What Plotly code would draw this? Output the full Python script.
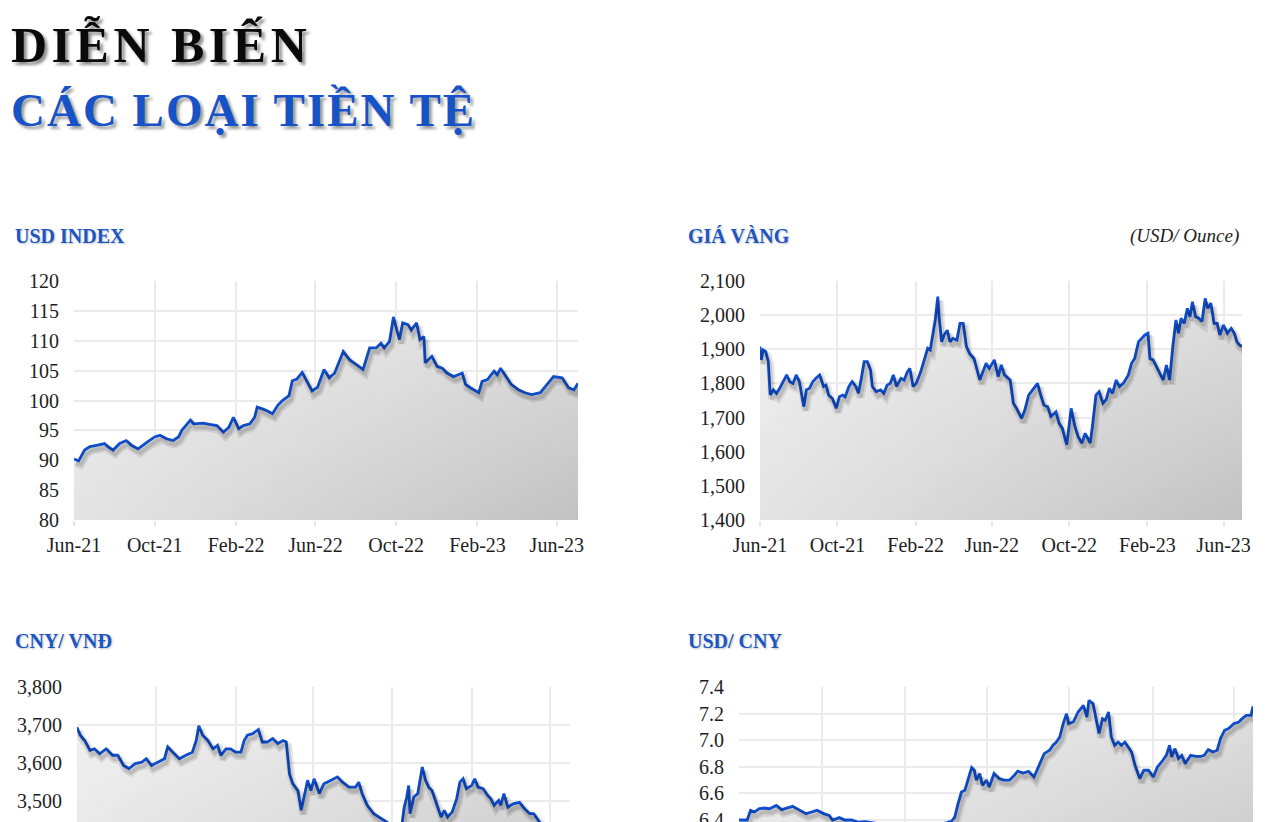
import plotly.graph_objects as go
import pandas as pd

W, H = 1280, 822

# ---------------- data ----------------
usd_index_dates = [
    "2021-06-01", "2021-06-08", "2021-06-17", "2021-06-25", "2021-07-05", "2021-07-17", "2021-07-22",
    "2021-07-30", "2021-08-09", "2021-08-19", "2021-08-27", "2021-09-06", "2021-09-19", "2021-10-01",
    "2021-10-09", "2021-10-19", "2021-10-29", "2021-11-06", "2021-11-11", "2021-11-24", "2021-11-29",
    "2021-12-13", "2021-12-23", "2022-01-03", "2022-01-13", "2022-01-21", "2022-01-28", "2022-02-05",
    "2022-02-12", "2022-02-22", "2022-03-01", "2022-03-05", "2022-03-13", "2022-03-20", "2022-03-28",
    "2022-04-05", "2022-04-12", "2022-04-22", "2022-04-27", "2022-05-04", "2022-05-12", "2022-05-19",
    "2022-05-27", "2022-06-04", "2022-06-14", "2022-06-22", "2022-06-30", "2022-07-13", "2022-07-23",
    "2022-08-02", "2022-08-12", "2022-08-22", "2022-09-01", "2022-09-08", "2022-09-13", "2022-09-21",
    "2022-09-27", "2022-10-02", "2022-10-06", "2022-10-11", "2022-10-19", "2022-10-24", "2022-11-01",
    "2022-11-06", "2022-11-12", "2022-11-14", "2022-11-24", "2022-12-02", "2022-12-10", "2022-12-17",
    "2022-12-27", "2023-01-09", "2023-01-14", "2023-01-22", "2023-02-03", "2023-02-08", "2023-02-16",
    "2023-02-26", "2023-03-03", "2023-03-08", "2023-03-16", "2023-03-24", "2023-04-04", "2023-04-14",
    "2023-04-24", "2023-05-07", "2023-05-15", "2023-05-27", "2023-06-09", "2023-06-19", "2023-06-27",
    "2023-07-03",
]
usd_index_values = [
    90.2, 89.9, 91.7, 92.3, 92.5, 92.8, 92.3,
    91.7, 92.8, 93.3, 92.5, 91.9, 93.0, 93.9,
    94.2, 93.6, 93.3, 93.9, 95.0, 96.7, 96.1,
    96.2, 96.0, 95.8, 94.7, 95.5, 97.2, 95.3,
    95.8, 96.1, 97.2, 98.9, 98.6, 98.3, 97.8,
    99.2, 100.0, 100.8, 103.3, 103.6, 104.7, 103.3,
    101.6, 102.2, 105.2, 103.8, 104.6, 108.2, 106.8,
    106.0, 105.2, 108.8, 108.8, 109.6, 108.8, 109.9,
    114.0, 111.8, 110.2, 113.0, 112.7, 111.8, 113.0,
    110.2, 110.7, 106.3, 107.4, 105.7, 105.4, 104.6,
    104.0, 104.6, 102.7, 102.1, 101.3, 103.2, 103.5,
    104.9, 104.3, 105.4, 104.0, 102.7, 101.8, 101.3,
    101.0, 101.3, 102.4, 104.0, 103.8, 102.1, 101.8,
    102.9,
]

gold_dates = [
    "2021-06-01", "2021-06-03", "2021-06-06", "2021-06-10", "2021-06-14", "2021-06-17", "2021-06-22",
    "2021-06-27", "2021-07-02", "2021-07-07", "2021-07-13", "2021-07-18", "2021-07-23", "2021-07-28",
    "2021-08-02", "2021-08-09", "2021-08-13", "2021-08-18", "2021-08-23", "2021-08-28", "2021-09-03",
    "2021-09-09", "2021-09-13", "2021-09-17", "2021-09-23", "2021-09-29", "2021-10-04", "2021-10-09",
    "2021-10-13", "2021-10-19", "2021-10-24", "2021-10-30", "2021-11-03", "2021-11-08", "2021-11-12",
    "2021-11-17", "2021-11-22", "2021-11-25", "2021-12-01", "2021-12-08", "2021-12-13", "2021-12-18",
    "2021-12-23", "2021-12-28", "2022-01-02", "2022-01-09", "2022-01-14", "2022-01-19", "2022-01-23",
    "2022-01-28", "2022-02-02", "2022-02-09", "2022-02-15", "2022-02-20", "2022-02-24", "2022-02-28",
    "2022-03-04", "2022-03-08", "2022-03-10", "2022-03-14", "2022-03-18", "2022-03-23", "2022-03-27",
    "2022-04-01", "2022-04-07", "2022-04-12", "2022-04-17", "2022-04-22", "2022-04-27", "2022-05-04",
    "2022-05-09", "2022-05-13", "2022-05-18", "2022-05-23", "2022-05-28", "2022-06-05", "2022-06-11",
    "2022-06-16", "2022-06-21", "2022-06-30", "2022-07-05", "2022-07-10", "2022-07-18", "2022-07-23",
    "2022-07-29", "2022-08-04", "2022-08-12", "2022-08-17", "2022-08-22", "2022-08-28", "2022-09-02",
    "2022-09-10", "2022-09-15", "2022-09-20", "2022-09-27", "2022-10-04", "2022-10-10", "2022-10-15",
    "2022-10-21", "2022-10-26", "2022-10-30", "2022-11-03", "2022-11-07", "2022-11-12", "2022-11-17",
    "2022-11-23", "2022-11-28", "2022-12-03", "2022-12-08", "2022-12-14", "2022-12-19", "2022-12-25",
    "2023-01-02", "2023-01-07", "2023-01-12", "2023-01-18", "2023-01-23", "2023-01-28", "2023-02-02",
    "2023-02-05", "2023-02-10", "2023-02-15", "2023-02-20", "2023-02-26", "2023-03-03", "2023-03-08",
    "2023-03-13", "2023-03-18", "2023-03-22", "2023-03-26", "2023-03-31", "2023-04-05", "2023-04-09",
    "2023-04-13", "2023-04-18", "2023-04-23", "2023-04-28", "2023-05-03", "2023-05-07", "2023-05-12",
    "2023-05-17", "2023-05-22", "2023-05-26", "2023-06-01", "2023-06-07", "2023-06-13", "2023-06-18",
    "2023-06-22", "2023-06-26", "2023-06-30",
]
gold_values = [
    1908, 1869, 1898, 1893, 1864, 1766, 1781,
    1771, 1786, 1805, 1825, 1805, 1800, 1825,
    1805, 1732, 1781, 1786, 1805, 1815, 1825,
    1791, 1795, 1766, 1756, 1727, 1761, 1766,
    1761, 1791, 1805, 1791, 1771, 1820, 1864,
    1864, 1839, 1791, 1776, 1781, 1771, 1795,
    1800, 1825, 1791, 1815, 1810, 1834, 1844,
    1791, 1800, 1834, 1873, 1903, 1898, 1947,
    1986, 2054, 1995, 1922, 1942, 1956, 1922,
    1932, 1927, 1976, 1976, 1908, 1888, 1873,
    1839, 1810, 1834, 1859, 1844, 1869, 1820,
    1854, 1825, 1810, 1742, 1727, 1698, 1722,
    1766, 1781, 1800, 1766, 1737, 1732, 1703,
    1717, 1683, 1669, 1620, 1727, 1673, 1644,
    1625, 1654, 1639, 1625, 1683, 1766, 1776,
    1742, 1752, 1786, 1771, 1810, 1791, 1800,
    1825, 1859, 1873, 1922, 1932, 1942, 1947,
    1873, 1869, 1849, 1834, 1810, 1854, 1810,
    1908, 1986, 1947, 1991, 1976, 2020, 1995,
    2039, 1995, 1991, 1981, 2049, 2020, 2035,
    1976, 1976, 1942, 1971, 1947, 1961, 1947,
    1922, 1913, 1908,
]

cny_vnd_dates = [
    "2021-06-01", "2021-06-06", "2021-06-13", "2021-06-21", "2021-06-28", "2021-07-06", "2021-07-16",
    "2021-07-26", "2021-08-03", "2021-08-12", "2021-08-20", "2021-08-30", "2021-09-09", "2021-09-16",
    "2021-09-24", "2021-10-04", "2021-10-14", "2021-10-19", "2021-10-27", "2021-11-06", "2021-11-16",
    "2021-11-26", "2021-12-02", "2021-12-06", "2021-12-12", "2021-12-20", "2021-12-28", "2022-01-04",
    "2022-01-09", "2022-01-17", "2022-01-24", "2022-02-01", "2022-02-09", "2022-02-14", "2022-02-19",
    "2022-02-27", "2022-03-08", "2022-03-14", "2022-03-22", "2022-03-30", "2022-04-07", "2022-04-15",
    "2022-04-20", "2022-04-25", "2022-04-30", "2022-05-08", "2022-05-13", "2022-05-18", "2022-05-23",
    "2022-05-28", "2022-06-02", "2022-06-10", "2022-06-17", "2022-06-28", "2022-07-08", "2022-07-16",
    "2022-07-26", "2022-08-05", "2022-08-10", "2022-08-15", "2022-08-23", "2022-09-02", "2022-09-13",
    "2022-09-23", "2022-10-03", "2022-10-10", "2022-10-15", "2022-10-19", "2022-10-23", "2022-10-26",
    "2022-10-28", "2022-11-03", "2022-11-09", "2022-11-16", "2022-11-21", "2022-11-26", "2022-12-01",
    "2022-12-09", "2022-12-15", "2022-12-20", "2022-12-25", "2023-01-01", "2023-01-08", "2023-01-13",
    "2023-01-18", "2023-01-23", "2023-01-31", "2023-02-05", "2023-02-10", "2023-02-18", "2023-02-25",
    "2023-03-02", "2023-03-07", "2023-03-14", "2023-03-17", "2023-03-22", "2023-03-28", "2023-04-05",
    "2023-04-15", "2023-04-23", "2023-05-01", "2023-05-07", "2023-05-16", "2023-06-01", "2023-06-20",
    "2023-07-02",
]
cny_vnd_values = [
    3694, 3673, 3659, 3633, 3637, 3624, 3637,
    3620, 3620, 3593, 3585, 3598, 3602, 3611,
    3593, 3602, 3611, 3642, 3628, 3611, 3620,
    3628, 3659, 3698, 3673, 3659, 3637, 3646,
    3620, 3637, 3637, 3628, 3628, 3659, 3673,
    3677, 3688, 3655, 3655, 3664, 3651, 3659,
    3655, 3571, 3545, 3527, 3475, 3514, 3554,
    3527, 3558, 3519, 3545, 3554, 3563, 3549,
    3536, 3536, 3549, 3519, 3488, 3466, 3453,
    3443, 3420, 3400, 3430, 3483, 3509, 3540,
    3466, 3510, 3519, 3589, 3554, 3536, 3527,
    3488, 3457, 3475, 3457, 3470, 3505, 3549,
    3558, 3532, 3540, 3558, 3536, 3532, 3514,
    3505, 3488, 3501, 3488, 3519, 3483, 3492,
    3496, 3479, 3466, 3466, 3444, 3420, 3400,
    3390,
]

usd_cny_dates = [
    "2021-06-01", "2021-06-08", "2021-06-13", "2021-06-18", "2021-06-24", "2021-07-01", "2021-07-08",
    "2021-07-16", "2021-07-26", "2021-08-03", "2021-08-10", "2021-08-19", "2021-08-28", "2021-09-08",
    "2021-09-16", "2021-09-24", "2021-10-04", "2021-10-12", "2021-10-17", "2021-10-27", "2021-11-04",
    "2021-11-14", "2021-11-24", "2021-12-04", "2021-12-19", "2022-01-05", "2022-01-25", "2022-02-15",
    "2022-03-10", "2022-03-20", "2022-04-10", "2022-04-15", "2022-04-20", "2022-04-25", "2022-04-30",
    "2022-05-05", "2022-05-10", "2022-05-14", "2022-05-17", "2022-05-22", "2022-05-26", "2022-06-01",
    "2022-06-05", "2022-06-12", "2022-06-20", "2022-06-27", "2022-07-05", "2022-07-12", "2022-07-17",
    "2022-07-25", "2022-08-02", "2022-08-10", "2022-08-17", "2022-08-25", "2022-09-02", "2022-09-07",
    "2022-09-12", "2022-09-17", "2022-09-22", "2022-09-27", "2022-09-30", "2022-10-07", "2022-10-14",
    "2022-10-22", "2022-10-27", "2022-10-30", "2022-11-05", "2022-11-09", "2022-11-14", "2022-11-19",
    "2022-11-23", "2022-11-28", "2022-12-02", "2022-12-07", "2022-12-12", "2022-12-17", "2022-12-22",
    "2022-12-27", "2023-01-01", "2023-01-06", "2023-01-13", "2023-01-19", "2023-01-26", "2023-02-02",
    "2023-02-08", "2023-02-16", "2023-02-21", "2023-02-26", "2023-03-01", "2023-03-06", "2023-03-11",
    "2023-03-16", "2023-03-21", "2023-03-29", "2023-04-06", "2023-04-13", "2023-04-18", "2023-04-24",
    "2023-05-01", "2023-05-07", "2023-05-12", "2023-05-18", "2023-05-24", "2023-06-01", "2023-06-08",
    "2023-06-13", "2023-06-19", "2023-06-26", "2023-06-29",
]
usd_cny_values = [
    6.400, 6.400, 6.400, 6.473, 6.460, 6.485, 6.490,
    6.485, 6.510, 6.478, 6.490, 6.503, 6.478, 6.448,
    6.460, 6.473, 6.448, 6.435, 6.400, 6.418, 6.400,
    6.400, 6.383, 6.387, 6.377, 6.370, 6.340, 6.320,
    6.320, 6.360, 6.390, 6.420, 6.523, 6.610, 6.623,
    6.700, 6.794, 6.774, 6.700, 6.749, 6.661, 6.700,
    6.648, 6.749, 6.711, 6.700, 6.700, 6.736, 6.768,
    6.753, 6.766, 6.723, 6.811, 6.899, 6.924, 6.962,
    6.986, 7.024, 7.125, 7.200, 7.125, 7.137, 7.212,
    7.262, 7.174, 7.300, 7.275, 7.174, 7.050, 7.162,
    7.150, 7.212, 7.024, 6.962, 6.986, 6.962, 6.986,
    6.949, 6.911, 6.811, 6.711, 6.774, 6.774, 6.723,
    6.798, 6.849, 6.886, 6.962, 6.874, 6.937, 6.862,
    6.886, 6.824, 6.886, 6.879, 6.879, 6.886, 6.930,
    6.911, 6.924, 7.012, 7.075, 7.087, 7.125, 7.137,
    7.162, 7.187, 7.187, 7.255,
]

month_ticks = ["2021-06-01", "2021-10-01", "2022-02-01", "2022-06-01",
               "2022-10-01", "2023-02-01", "2023-06-01"]
month_labels = ["Jun-21", "Oct-21", "Feb-22", "Jun-22", "Oct-22", "Feb-23", "Jun-23"]

usd_index_ticks = [80, 85, 90, 95, 100, 105, 110, 115, 120]
gold_ticks = [1400, 1500, 1600, 1700, 1800, 1900, 2000, 2100]
cny_vnd_ticks = [3500, 3600, 3700, 3800]
usd_cny_ticks = [6.4, 6.6, 6.8, 7.0, 7.2, 7.4]

# ---------------- styling ----------------
LINE = "#0f50d2"
TITLE_BLUE = "#1b56c4"
GRID = "#ebebeb"
TXT = "#1e1e1e"
SERIF = "Liberation Serif, Times New Roman, serif"

panels = [
    dict(title="USD INDEX", x=usd_index_dates, y=usd_index_values,
         box=(74, 578, 281, 520), yr=(80, 120), ticks=usd_index_ticks, fmt="d",
         vgrad=(80, 118), xlabels=True, tx=13, ty=236),
    dict(title="GIÁ VÀNG", x=gold_dates, y=gold_values,
         box=(760, 1242, 281, 520), yr=(1400, 2100), ticks=gold_ticks, fmt=",d",
         vgrad=(1400, 2080), xlabels=True, tx=686, ty=236),
    dict(title="CNY/ VNĐ", x=cny_vnd_dates, y=cny_vnd_values,
         box=(77, 570, 687, 822), yr=(3444, 3800), ticks=cny_vnd_ticks, fmt=",d",
         vgrad=(3200, 3750), xlabels=False, tx=13, ty=641),
    dict(title="USD/ CNY", x=usd_cny_dates, y=usd_cny_values,
         box=(739, 1253, 687, 822), yr=(6.385, 7.4), ticks=usd_cny_ticks, fmt=".1f",
         vgrad=(5.6, 7.35), xlabels=False, tx=686, ty=641),
]

fig = go.Figure()
layout = dict(
    width=W, height=H, margin=dict(l=0, r=0, t=0, b=0, pad=0, autoexpand=False),
    paper_bgcolor="white", plot_bgcolor="white",
    showlegend=False, hovermode=False,
    font=dict(family=SERIF, size=20, color=TXT),
    annotations=[],
)

SH_DX, SH_DY = 2, 4  # shadow offset in pixels

for i, p in enumerate(panels):
    n = i + 1
    s = i + 5
    x0, x1, y0, y1 = p["box"]
    xa, ya = ("x" if n == 1 else f"x{n}"), ("y" if n == 1 else f"y{n}")
    xs, ys = f"x{s}", f"y{s}"

    t0 = pd.Timestamp(p["x"][0])
    t1 = pd.Timestamp(p["x"][-1])
    ms_per_px = (t1 - t0) / (x1 - x0)
    u_per_px = (p["yr"][1] - p["yr"][0]) / (y1 - y0)

    # gradient fill (horizontal base)
    fig.add_trace(go.Scatter(
        x=p["x"], y=p["y"], xaxis=xa, yaxis=ya, mode="lines",
        line=dict(width=0, color="rgba(0,0,0,0)"), fill="tozeroy",
        fillgradient=dict(type="horizontal",
                          colorscale=[[0, "#e4e4e4"], [1, "#c2c2c2"]]),
    ))
    # vertical light overlay
    fig.add_trace(go.Scatter(
        x=p["x"], y=p["y"], xaxis=xa, yaxis=ya, mode="lines",
        line=dict(width=0, color="rgba(0,0,0,0)"), fill="tozeroy",
        fillgradient=dict(type="vertical", start=p["vgrad"][0], stop=p["vgrad"][1],
                          colorscale=[[0, "rgba(255,255,255,0)"], [1, "rgba(255,255,255,0.5)"]]),
    ))
    # drop shadow of the line (same data, on a slightly shifted overlay axis)
    fig.add_trace(go.Scatter(
        x=p["x"], y=p["y"], xaxis=xs, yaxis=ys, mode="lines",
        line=dict(width=8, color="rgba(0,0,0,0.09)"),
    ))
    fig.add_trace(go.Scatter(
        x=p["x"], y=p["y"], xaxis=xs, yaxis=ys, mode="lines",
        line=dict(width=4, color="rgba(0,0,0,0.12)"),
    ))
    # main line
    fig.add_trace(go.Scatter(
        x=p["x"], y=p["y"], xaxis=xa, yaxis=ya, mode="lines",
        line=dict(width=2.8, color=LINE),
    ))

    dom_x = [x0 / W, x1 / W]
    dom_y = [max(0.0, 1 - y1 / H), 1 - y0 / H]
    xkey = "xaxis" if n == 1 else f"xaxis{n}"
    ykey = "yaxis" if n == 1 else f"yaxis{n}"
    layout[xkey] = dict(
        domain=dom_x, anchor=ya, type="date", range=[p["x"][0], p["x"][-1]],
        tickmode="array", tickvals=month_ticks, ticktext=month_labels,
        showgrid=True, gridcolor=GRID, gridwidth=1.5, zeroline=False, showline=False,
        ticks="outside" if p["xlabels"] else "", ticklen=5, tickcolor="#e6e6e6", tickwidth=1.5,
        showticklabels=p["xlabels"], tickfont=dict(family=SERIF, size=20, color=TXT),
        ticklabelstandoff=2, automargin=False,
    )
    layout[ykey] = dict(
        domain=dom_y, anchor=xa, range=list(p["yr"]),
        tickmode="array", tickvals=p["ticks"],
        tickformat=p["fmt"], showgrid=True, gridcolor=GRID, gridwidth=1.5,
        zeroline=False, showline=False, ticks="",
        tickfont=dict(family=SERIF, size=20, color=TXT), ticklabelstandoff=14,
        ticklabeloverflow="allow", automargin=False,
    )
    # shifted overlay axes for the shadow
    layout[f"xaxis{s}"] = dict(
        overlaying=xa, anchor=ys, type="date", visible=False, automargin=False,
        range=[str(t0 - ms_per_px * SH_DX), str(t1 - ms_per_px * SH_DX)],
    )
    layout[f"yaxis{s}"] = dict(
        overlaying=ya, anchor=xs, visible=False, automargin=False,
        range=[p["yr"][0] + u_per_px * SH_DY, p["yr"][1] + u_per_px * SH_DY],
    )

    layout["annotations"].append(dict(
        text=f"<b>{p['title']}</b>", xref="paper", yref="paper",
        x=p["tx"] / W, y=1 - p["ty"] / H, xanchor="left", yanchor="middle",
        showarrow=False, align="left",
        font=dict(family=SERIF, size=20, color=TITLE_BLUE, shadow="1px 1px 2px rgba(0,0,0,0.25)"),
    ))

layout["annotations"].append(dict(
    text="<i>(USD/ Ounce)</i>", xref="paper", yref="paper",
    x=1241 / W, y=1 - 236 / H, xanchor="right", yanchor="middle", showarrow=False,
    font=dict(family=SERIF, size=19, color=TXT),
))
layout["annotations"].append(dict(
    text="<b>DIỄN BIẾN</b>", xref="paper", yref="paper",
    x=9 / W, y=1 - 44 / H, xanchor="left", yanchor="middle", showarrow=False, align="left",
    font=dict(family=SERIF, size=50, color="#0a0a0a", shadow="3px 3px 3px rgba(0,0,0,0.45)"),
))
layout["annotations"].append(dict(
    text="<b>CÁC LOẠI TIỀN TỆ</b>", xref="paper", yref="paper",
    x=9 / W, y=1 - 110 / H, xanchor="left", yanchor="middle", showarrow=False, align="left",
    font=dict(family=SERIF, size=47, color="#1652c8", shadow="3px 3px 3px rgba(0,0,0,0.40)"),
))

fig.update_layout(**layout)

post = (
    "document.body.style.margin='0';document.body.style.overflow='hidden';"
    "document.querySelectorAll('text.annotation-text').forEach(function(t){"
    "var s=t.textContent;"
    "if(s.indexOf('DI')===0){t.style.letterSpacing='4.5px';}"
    "else if(s.indexOf('C\\u00c1C')===0){t.style.letterSpacing='2px';}"
    "});"
)

fig.write_html("out.html", post_script=post, config={"displayModeBar": False})
